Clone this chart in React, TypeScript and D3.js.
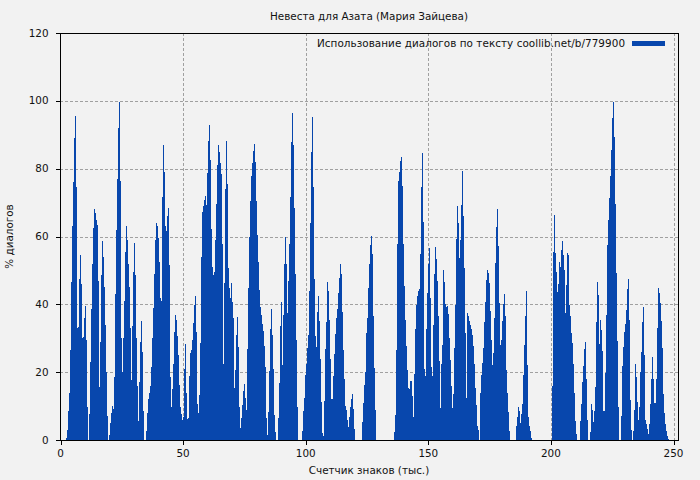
import React from "react";
import * as d3 from "d3";

const title = "Невеста для Азата (Мария Зайцева)";
const legendLabel = "Использование диалогов по тексту coollib.net/b/779900";
const xLabel = "Счетчик знаков (тыс.)";
const yLabel = "% диалогов";
const xTicks = [0, 50, 100, 150, 200, 250];
const yTicks = [0, 20, 40, 60, 80, 100, 120];

// position (thousand chars) of the first bar and the width of each bar
const START_K = 2.24;
const STEP_K = 0.408;

// % of dialogue per bar, left to right
const partA = [
  0.5, 3, 8.5, 14, 26.5, 46.6, 63, 76, 89, 95.5,
  74.6, 33, 33.4, 47.5, 54.5, 46, 30, 30.5, 36, 39.5,
  29.6, 9.7, 0, 7.7, 23, 38.6, 52, 62.5, 68, 67,
  65, 63.4, 47, 15.6, 29, 48.6, 58.7, 54, 45, 34,
  20, 7, 0, 1.5, 5, 8, 10, 9, 18.5, 43,
  62, 77, 92, 99.7, 76.4, 30, 20, 30, 41, 55.4,
  63, 59, 52, 45, 33, 17.7, 33.6, 49.5, 58, 48.6,
  30, 16, 5.6, 17, 29, 35, 26, 8.5, 0, 0,
  2.6, 8, 12, 14, 16, 21.5, 30, 39, 49, 59,
  64, 63, 59.6, 52.5, 42, 41, 71.6, 87, 79,
];
const partB = [
  63, 61.6, 66, 68.4, 51.6, 18.6, 9.7, 15, 22.4, 31.8,
  36.8, 35.4, 30.7, 25, 16.2, 9.7, 7.7, 5.9, 6.8, 21,
  28.3, 14, 6.2, 6.5, 18.9, 25.6, 26.5, 29.5, 34.5, 39.8,
  42.5, 31.8, 10.6, 8, 13.3, 28.6, 54, 67.2, 69, 70.8,
  72, 69.3, 78.7, 88.2, 92.9, 82.6, 62.2, 51, 48.6, 49.5,
  59, 69.6, 81, 87, 85, 81.7, 78.4, 57.8, 22.4, 46.3,
  74, 88.2, 75.5, 50.7, 44.8, 42, 46.3, 40.7, 36, 15.3,
  20.6, 31, 36.3, 27.4, 9.7, 3.5, 6.5, 10.3, 14.4, 16.5,
  12.4, 8.8, 26.8, 44.8, 60, 70.5, 77.8, 81.7, 85.2, 87.3,
  82, 70.5, 60.4, 52.5, 44.2, 39.2, 36.8, 34.2, 32, 27.7,
  21.5, 6.5, 1.5, 8.2, 20.3,
];
const partC = [
  32.7, 38.6, 31, 20.9, 7.4, 2.4, 0, 0, 6.5, 16.8,
  33.6, 40.7, 22, 37, 52, 60, 52, 37.4, 47, 57.8,
  71.6, 88, 96.4, 87, 68.4, 49, 29.5, 9.7, 0, 0,
  0, 0, 2.6, 8.5, 12.4, 19.2, 22.4, 27, 31, 44,
  64, 85, 95.2, 74.6, 47.5, 30.7, 27.4, 37.7, 42.5, 35,
  23.9, 11.2, 2, 1.2, 11.5, 26.8, 34.8, 46.6, 44, 35.4,
  23.9, 12, 12, 18.9, 25.4, 31.3, 36, 38.6, 43.3, 47.8,
  52, 49, 37.7, 26.5, 18, 10, 8.8, 5.9, 3.8, 6.8,
  9.7, 12, 13.6, 9.1, 3.2, 0, 0, 0, 0, 0,
  0, 0, 5.3, 10.9, 16.2, 20, 31.5, 36, 44.8, 52,
  57.5, 60.1, 54.8, 36.5, 21.2,
];
const partD = [
  8.8, 0, 0, 0, 0, 0, 0, 0, 0, 0,
  0, 0, 0, 0, 0, 0, 0, 0, 0, 2.4,
  7.4, 26.5, 57.8, 76.4, 79, 82.3, 83.4, 74.9, 57.8, 45.4,
  35.4, 27.7, 20.6, 15.3, 15, 17.4, 17.4, 13, 6.8, 19.5,
  32.7, 39.8, 42.5, 44, 44.5, 54.8, 74.6, 84.6, 64.3, 21,
  18.9, 32.7, 43.3, 52, 56.6, 41.9, 21.5, 18.9, 33.9, 49,
  56.9, 53.4, 47, 36.6, 23.3, 9.4, 22.4, 28, 50.1, 46.6,
  40.1, 39.2, 39.5, 37.1, 30, 23.6, 16, 9.4, 13.6, 27,
  39.8, 59.3, 69, 64, 53.6, 59, 69.3, 79.3, 66, 50.7,
  31.5, 12.4, 37.4, 36.6, 35, 33.9, 32.7, 31, 27.7, 22.4,
  15.3, 10.3, 4.1, 2.9, 0,
];
const partE = [
  13.9, 19.2, 22.7, 27, 34.8, 40.7, 47.2, 50, 49.2, 46.3,
  38, 29.5, 22, 25.6, 36, 52.2, 62.8, 68, 57.2, 40.4,
  28, 29.5, 35, 40.1, 43, 36.6, 20.6, 13.9, 8.2, 2.6,
  0, 0, 0, 0, 0, 0,
  4.1, 6.8, 9.7, 8.5, 5, 7.7, 10.6, 19.2, 28, 36.6,
  44, 22, 6.8, 4.1, 2.6, 0.6,
  0, 0, 0, 0, 0, 0, 0, 0, 0, 0,
  0, 0, 0, 0, 0, 0, 0, 0, 0, 0,
  16, 55.4, 66.3, 55, 49.5, 43.6, 46, 52.5, 51, 56,
  58.7, 54.5, 50, 37.4, 45.7, 55, 54.5, 39.8, 36.6, 31.5,
  28.6, 22.4, 13.9, 5.6, 1.8, 0, 0, 0,
];
const partF = [
  5.6, 10.6, 17, 21.8, 26.8, 29, 18, 5.9, 0, 0,
  2.4, 10.6, 8.8, 5.3, 8.5, 15.6, 34.8, 46.6, 42.7, 28.3,
  35.4, 32.4, 26.2, 8.5, 8.5, 19.8, 36.8, 57.5, 64.9, 71.4,
  77.8, 85.5, 95, 99.7, 89.3, 69.6, 49.2, 29.2, 9.7, 0,
  0, 7, 21.8, 27.4, 31.8, 34.2, 38.3, 44.5, 47.5, 35.4,
  11.8, 2.9, 0, 2.6, 8.8, 22.4, 18.6, 11.2, 5.9, 9.7,
  20, 26, 34.8, 39.2, 25, 5.9, 4.7, 3.2, 1.8, 4.7,
  10.6, 18, 24.5, 18, 10.9, 10.9, 18, 33, 44.8, 43.3,
  40.4, 35, 27, 13.6, 8, 4.7, 2.6, 1.2, 0.3,
];

const BAR_COLOR = "#0847ad";
const FONT = "'DejaVu Sans', Verdana, sans-serif";

export default function App() {
  const W = 700;
  const H = 480;
  const plotLeft = 60;
  const plotRight = 678;
  const plotTop = 33;
  const plotBottom = 440;

  const x = d3.scaleLinear().domain([0, 250]).range([60.5, 673.5]);
  const y = d3.scaleLinear().domain([0, 120]).range([plotBottom, plotTop]);

  const values = [...partA, ...partB, ...partC, ...partD, ...partE, ...partF];
  const bars = values.map((v, i) => {
    const k0 = START_K + i * STEP_K;
    const x0 = Math.round(x(k0));
    const x1 = Math.round(x(k0 + STEP_K));
    const yt = y(v);
    return { x: x0, w: Math.max(1, x1 - x0), y: yt, h: plotBottom - yt, v };
  });

  const px = (v: number) => Math.round(v) + 0.5;

  return (
    <svg
      width={W}
      height={H}
      style={{ position: "absolute", left: 0, top: 0, display: "block" }}
      fontFamily={FONT}
    >
      <rect x={0} y={0} width={W} height={H} fill="#f2f2f2" />

      {/* grid */}
      <g stroke="#a0a0a0" strokeWidth={1} strokeDasharray="3,2" shapeRendering="crispEdges">
        {yTicks.filter((t) => t > 0 && t < 120).map((t) => (
          <line key={"gy" + t} x1={plotLeft} x2={plotRight} y1={px(y(t))} y2={px(y(t))} />
        ))}
        {xTicks.filter((t) => t > 0).map((t) => (
          <line key={"gx" + t} x1={px(x(t))} x2={px(x(t))} y1={plotTop} y2={plotBottom} />
        ))}
      </g>

      {/* bars */}
      <g fill={BAR_COLOR} shapeRendering="crispEdges">
        {bars.filter((b) => b.v > 0).map((b, i) => (
          <rect key={i} x={b.x} y={b.y} width={b.w} height={b.h} />
        ))}
      </g>

      {/* frame */}
      <rect
        x={plotLeft + 0.5}
        y={plotTop + 0.5}
        width={plotRight - plotLeft}
        height={plotBottom - plotTop}
        fill="none"
        stroke="#000"
        strokeWidth={1}
        shapeRendering="crispEdges"
      />

      {/* ticks */}
      <g shapeRendering="crispEdges" stroke="#000">
        {yTicks.map((t) => (
          <line key={"ty" + t} x1={plotLeft - 4} x2={plotLeft} y1={px(y(t))} y2={px(y(t))} />
        ))}
        {xTicks.map((t) => (
          <line key={"tx" + t} x1={px(x(t))} x2={px(x(t))} y1={plotBottom} y2={plotBottom + 5} />
        ))}
      </g>
      <g fontSize={10.4} fill="#111">
        {yTicks.map((t) => (
          <text key={"ly" + t} x={48.5} y={y(t)} dy="0.35em" textAnchor="end">
            {t}
          </text>
        ))}
        {xTicks.map((t) => (
          <text key={"lx" + t} x={x(t)} y={457} textAnchor="middle">
            {t}
          </text>
        ))}
        <text x={369} y={474} textAnchor="middle">{xLabel}</text>
        <text transform="translate(12.5,236.5) rotate(-90)" textAnchor="middle">{yLabel}</text>
        <text x={369} y={20} textAnchor="middle" textLength={198} lengthAdjust="spacing">{title}</text>
        <text x={625} y={47} textAnchor="end" textLength={308} lengthAdjust="spacing">{legendLabel}</text>
      </g>
      <rect x={632} y={41} width={33} height={5} fill={BAR_COLOR} />
    </svg>
  );
}
